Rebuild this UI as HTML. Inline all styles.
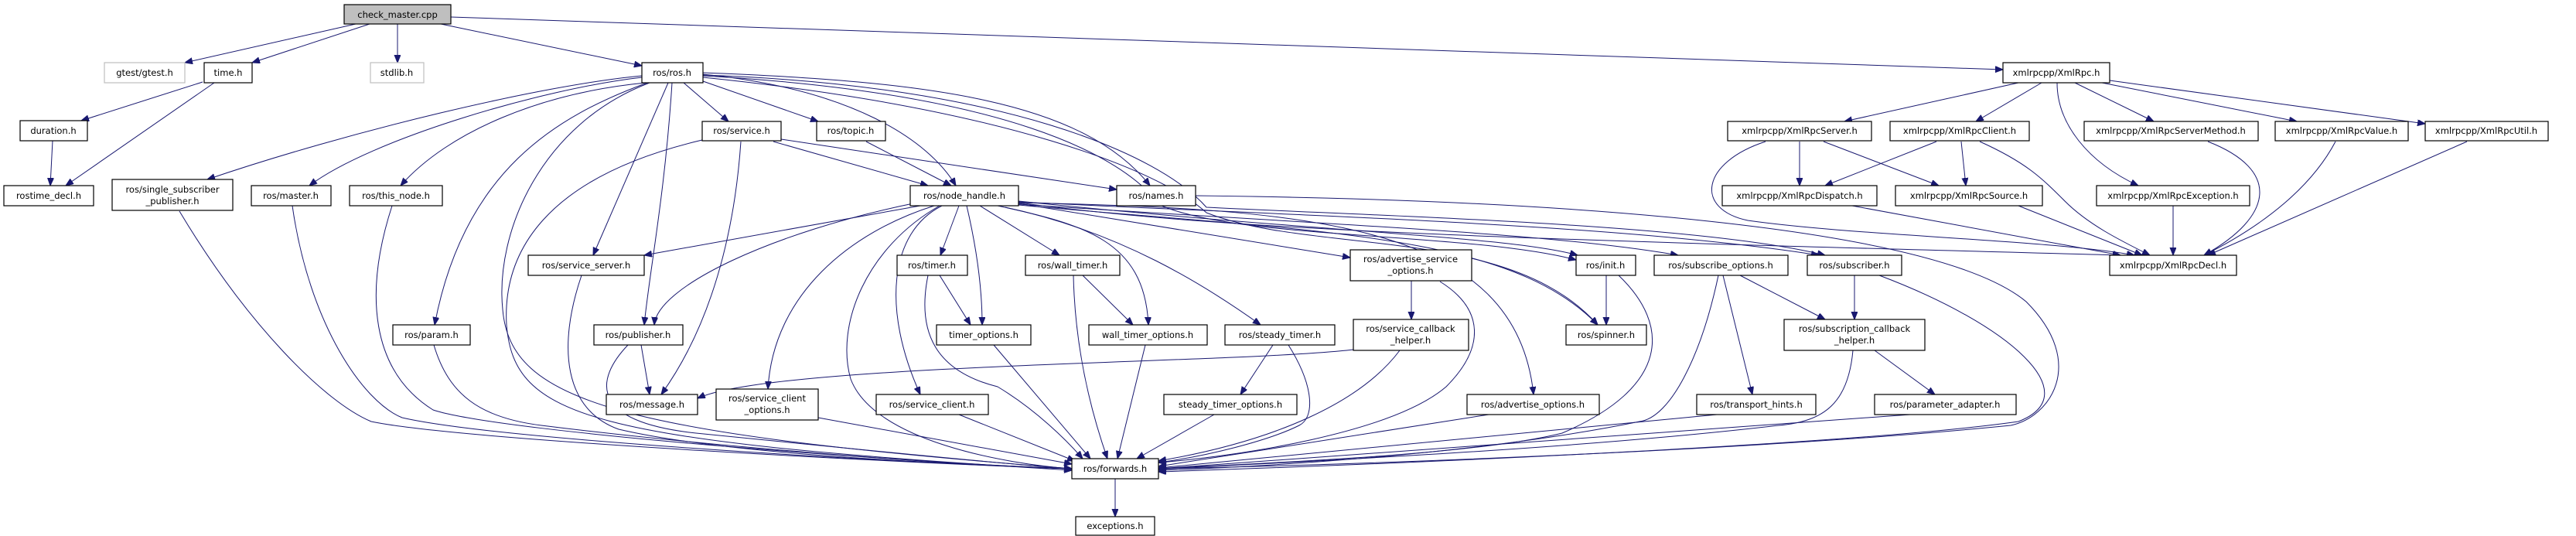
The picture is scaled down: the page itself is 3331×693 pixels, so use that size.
<!DOCTYPE html>
<html><head><meta charset="utf-8"><style>
html,body{margin:0;padding:0;background:#fff;}
svg{display:block;}
text{font-family:"DejaVu Sans","Liberation Sans",sans-serif;font-size:11.5px;text-anchor:middle;fill:#000;}
.n{fill:#fff;stroke:#000;stroke-width:1.2;}
.g{fill:#fff;stroke:#bfbfbf;stroke-width:1.2;}
.e{fill:none;stroke:#191970;stroke-width:1;marker-end:url(#a);}
</style></head><body>
<svg width="3331" height="693" viewBox="0 0 3331 693" xmlns="http://www.w3.org/2000/svg">
<defs><marker id="a" markerUnits="userSpaceOnUse" markerWidth="12" markerHeight="10" refX="10" refY="4" orient="auto"><path d="M0,0 L10,4 L0,8 z" fill="#191970" stroke="#191970"/></marker></defs>
<g>
<!-- edges -->
<path class="e" d="M583,22 L2590,90"/>
<path class="e" d="M570,31 L830,85"/>
<path class="e" d="M460,31 L239,81"/>
<path class="e" d="M478,31 L326,81"/>
<path class="e" d="M514,31 L514,81"/>
<path class="e" d="M262,106 L105,156"/>
<path class="e" d="M277,107 L85,240"/>
<path class="e" d="M68,182 L65,240"/>
<path class="e" d="M830,98 C700,110 450,170 268,232"/>
<path class="e" d="M830,100 C700,115 480,180 400,240"/>
<path class="e" d="M835,107 C700,120 580,170 518,240"/>
<path class="e" d="M837,107 C720,150 600,220 562,420"/>
<path class="e" d="M840,107 C700,160 640,300 650,400 C660,520 800,560 1386,606"/>
<path class="e" d="M864,107 L767,330"/>
<path class="e" d="M869,107 C860,250 840,350 833,420"/>
<path class="e" d="M884,107 L942,157"/>
<path class="e" d="M909,105 L1058,157"/>
<path class="e" d="M909,96 C1100,115 1200,180 1236,240"/>
<path class="e" d="M909,94 C1200,105 1400,130 1487,240"/>
<path class="e" d="M909,98 C1300,120 1450,200 1500,265 C1600,310 1900,300 2038,336"/>
<path class="e" d="M909,100 C1300,140 1500,220 1560,275 C1700,330 1950,290 2066,420"/>
<path class="e" d="M909,97 C1300,110 1500,200 1560,268 C1800,280 2200,290 2360,330"/>
<path class="e" d="M958,183 C950,300 920,420 855,510"/>
<path class="e" d="M1000,183 L1200,240"/>
<path class="e" d="M1010,180 L1444,245"/>
<path class="e" d="M908,181 C700,230 650,330 655,420 C665,540 760,570 1386,608"/>
<path class="e" d="M1120,183 L1230,240"/>
<path class="e" d="M1190,266 L833,330"/>
<path class="e" d="M1181,263 C1000,300 850,370 846,420"/>
<path class="e" d="M1208,266 C1100,300 1000,380 993,503"/>
<path class="e" d="M1215,266 C1120,320 1080,420 1100,490 C1130,570 1300,600 1386,606"/>
<path class="e" d="M1218,266 C1150,300 1140,400 1190,510"/>
<path class="e" d="M1240,266 L1216,330"/>
<path class="e" d="M1250,266 C1265,330 1270,380 1270,420"/>
<path class="e" d="M1267,266 L1370,330"/>
<path class="e" d="M1290,266 C1400,290 1480,310 1485,420"/>
<path class="e" d="M1300,268 C1450,300 1560,370 1630,420"/>
<path class="e" d="M1317,263 L1746,333"/>
<path class="e" d="M1317,262 C1700,270 1960,290 1983,510"/>
<path class="e" d="M1317,260 C1700,300 1950,305 2040,330"/>
<path class="e" d="M1317,265 C1700,300 1950,300 2066,420"/>
<path class="e" d="M1317,264 C1700,290 2000,300 2170,330"/>
<path class="e" d="M1317,261 C1700,280 2100,290 2352,330"/>
<path class="e" d="M1317,262 C1600,300 2000,310 2742,330"/>
<path class="e" d="M1546,253 C2000,258 2500,290 2620,390 C2700,470 2650,540 2600,550 C2300,580 1800,600 1498,606"/>
<path class="e" d="M2283,183 C2200,210 2190,270 2260,285 C2400,305 2650,310 2760,330"/>
<path class="e" d="M2430,356 C2600,420 2700,510 2610,545 C2400,575 1800,600 1498,610"/>
<path class="e" d="M2222,356 C2200,460 2160,540 2120,545 C1900,590 1600,605 1498,608"/>
<path class="e" d="M2093,356 C2160,420 2160,500 2020,560 C1900,590 1600,600 1498,606"/>
<path class="e" d="M2077,356 L2077,420"/>
<path class="e" d="M2250,356 L2360,413"/>
<path class="e" d="M2228,356 L2266,510"/>
<path class="e" d="M2398,356 L2398,413"/>
<path class="e" d="M2424,453 L2502,510"/>
<path class="e" d="M2396,453 C2390,520 2360,545 2300,550 C2000,585 1600,600 1498,607"/>
<path class="e" d="M2220,536 L1498,605"/>
<path class="e" d="M2470,536 L1498,606"/>
<path class="e" d="M1925,536 L1498,603"/>
<path class="e" d="M1825,363 L1825,413"/>
<path class="e" d="M1862,364 C1920,400 1920,450 1870,500 C1800,560 1600,590 1498,598"/>
<path class="e" d="M1750,452 C1600,470 1000,470 902,515"/>
<path class="e" d="M1810,453 C1760,520 1650,570 1498,596"/>
<path class="e" d="M1646,446 L1604,510"/>
<path class="e" d="M1666,446 C1700,500 1700,540 1680,550 C1640,570 1560,590 1498,598"/>
<path class="e" d="M1570,536 L1470,593"/>
<path class="e" d="M1481,446 L1445,593"/>
<path class="e" d="M1388,356 C1390,450 1410,530 1432,593"/>
<path class="e" d="M1400,356 L1465,420"/>
<path class="e" d="M1215,356 L1255,420"/>
<path class="e" d="M1200,356 C1185,430 1210,480 1290,500 C1340,530 1380,570 1400,593"/>
<path class="e" d="M1285,446 L1410,593"/>
<path class="e" d="M1240,536 L1390,596"/>
<path class="e" d="M1058,540 L1386,600"/>
<path class="e" d="M829,446 L840,510"/>
<path class="e" d="M812,446 C770,490 760,545 900,560 C1100,580 1300,600 1386,606"/>
<path class="e" d="M752,356 C720,450 730,530 800,555 C950,590 1250,600 1386,606"/>
<path class="e" d="M232,273 C320,420 420,520 480,545 C600,570 1200,600 1386,606"/>
<path class="e" d="M378,266 C400,420 470,520 520,540 C650,570 1200,600 1386,606"/>
<path class="e" d="M507,266 C470,380 480,480 560,530 C650,560 1200,600 1386,606"/>
<path class="e" d="M561,446 C580,510 620,540 700,550 C900,575 1200,600 1386,606"/>
<path class="e" d="M1442,619 L1442,668"/>
<path class="e" d="M2610,107 L2385,157"/>
<path class="e" d="M2640,107 L2555,157"/>
<path class="e" d="M2683,107 L2785,157"/>
<path class="e" d="M2718,107 L2970,157"/>
<path class="e" d="M2728,104 L3136,160"/>
<path class="e" d="M2660,107 C2660,160 2700,210 2765,240"/>
<path class="e" d="M2327,183 L2327,240"/>
<path class="e" d="M2358,183 L2507,240"/>
<path class="e" d="M2504,183 L2360,240"/>
<path class="e" d="M2536,183 L2542,240"/>
<path class="e" d="M2560,183 C2620,210 2640,230 2670,260 C2700,290 2740,310 2780,330"/>
<path class="e" d="M2395,266 L2742,330"/>
<path class="e" d="M2610,266 L2770,330"/>
<path class="e" d="M2810,266 L2810,330"/>
<path class="e" d="M2855,183 C2950,220 2940,280 2850,330"/>
<path class="e" d="M3020,183 C2990,240 2930,290 2850,330"/>
<path class="e" d="M3190,183 L2855,330"/>
</g>
<g>
<rect x="445" y="6" width="138" height="25" fill="#bfbfbf" stroke="#000" stroke-width="1.2"/><text x="514" y="23">check_master.cpp</text>
<rect class="g" x="135" y="81" width="104" height="26"/><text x="187" y="98">gtest/gtest.h</text>
<rect class="n" x="264" y="81" width="62" height="26"/><text x="295" y="98">time.h</text>
<rect class="g" x="479" y="81" width="69" height="26"/><text x="513" y="98">stdlib.h</text>
<rect class="n" x="830" y="81" width="79" height="26"/><text x="869" y="98">ros/ros.h</text>
<rect class="n" x="2590" y="81" width="138" height="26"/><text x="2659" y="98">xmlrpcpp/XmlRpc.h</text>
<rect class="n" x="26" y="156" width="87" height="26"/><text x="69" y="173">duration.h</text>
<rect class="n" x="908" y="157" width="102" height="25"/><text x="959" y="173">ros/service.h</text>
<rect class="n" x="1056" y="157" width="89" height="25"/><text x="1100" y="173">ros/topic.h</text>
<rect class="n" x="2234" y="157" width="186" height="25"/><text x="2327" y="173">xmlrpcpp/XmlRpcServer.h</text>
<rect class="n" x="2444" y="157" width="180" height="25"/><text x="2534" y="173">xmlrpcpp/XmlRpcClient.h</text>
<rect class="n" x="2695" y="157" width="225" height="25"/><text x="2807" y="173">xmlrpcpp/XmlRpcServerMethod.h</text>
<rect class="n" x="2942" y="157" width="172" height="25"/><text x="3028" y="173">xmlrpcpp/XmlRpcValue.h</text>
<rect class="n" x="3136" y="157" width="159" height="25"/><text x="3215" y="173">xmlrpcpp/XmlRpcUtil.h</text>
<rect class="n" x="5" y="240" width="116" height="26"/><text x="63" y="257">rostime_decl.h</text>
<rect class="n" x="145" y="232" width="156" height="40"/><text x="223" y="249">ros/single_subscriber</text><text x="223" y="264">_publisher.h</text>
<rect class="n" x="325" y="240" width="103" height="26"/><text x="376" y="257">ros/master.h</text>
<rect class="n" x="452" y="240" width="120" height="26"/><text x="512" y="257">ros/this_node.h</text>
<rect class="n" x="1177" y="240" width="140" height="26"/><text x="1247" y="257">ros/node_handle.h</text>
<rect class="n" x="1444" y="240" width="102" height="26"/><text x="1495" y="257">ros/names.h</text>
<rect class="n" x="2227" y="240" width="200" height="26"/><text x="2327" y="257">xmlrpcpp/XmlRpcDispatch.h</text>
<rect class="n" x="2451" y="240" width="190" height="26"/><text x="2546" y="257">xmlrpcpp/XmlRpcSource.h</text>
<rect class="n" x="2711" y="240" width="198" height="26"/><text x="2810" y="257">xmlrpcpp/XmlRpcException.h</text>
<rect class="n" x="683" y="330" width="150" height="26"/><text x="758" y="347">ros/service_server.h</text>
<rect class="n" x="1160" y="330" width="91" height="26"/><text x="1205" y="347">ros/timer.h</text>
<rect class="n" x="1326" y="330" width="122" height="26"/><text x="1387" y="347">ros/wall_timer.h</text>
<rect class="n" x="1746" y="323" width="157" height="40"/><text x="1824" y="339">ros/advertise_service</text><text x="1824" y="354">_options.h</text>
<rect class="n" x="2038" y="330" width="77" height="26"/><text x="2076" y="347">ros/init.h</text>
<rect class="n" x="2139" y="330" width="173" height="26"/><text x="2225" y="347">ros/subscribe_options.h</text>
<rect class="n" x="2337" y="330" width="122" height="26"/><text x="2398" y="347">ros/subscriber.h</text>
<rect class="n" x="2728" y="330" width="164" height="26"/><text x="2810" y="347">xmlrpcpp/XmlRpcDecl.h</text>
<rect class="n" x="508" y="420" width="100" height="26"/><text x="558" y="437">ros/param.h</text>
<rect class="n" x="768" y="420" width="115" height="26"/><text x="825" y="437">ros/publisher.h</text>
<rect class="n" x="1211" y="420" width="122" height="26"/><text x="1272" y="437">timer_options.h</text>
<rect class="n" x="1408" y="420" width="153" height="26"/><text x="1484" y="437">wall_timer_options.h</text>
<rect class="n" x="1584" y="420" width="142" height="26"/><text x="1655" y="437">ros/steady_timer.h</text>
<rect class="n" x="1750" y="413" width="149" height="40"/><text x="1824" y="429">ros/service_callback</text><text x="1824" y="444">_helper.h</text>
<rect class="n" x="2025" y="420" width="104" height="26"/><text x="2077" y="437">ros/spinner.h</text>
<rect class="n" x="2307" y="413" width="182" height="40"/><text x="2398" y="429">ros/subscription_callback</text><text x="2398" y="444">_helper.h</text>
<rect class="n" x="784" y="510" width="118" height="26"/><text x="843" y="527">ros/message.h</text>
<rect class="n" x="926" y="503" width="132" height="40"/><text x="992" y="519">ros/service_client</text><text x="992" y="534">_options.h</text>
<rect class="n" x="1133" y="510" width="145" height="26"/><text x="1205" y="527">ros/service_client.h</text>
<rect class="n" x="1505" y="510" width="172" height="26"/><text x="1591" y="527">steady_timer_options.h</text>
<rect class="n" x="1897" y="510" width="171" height="26"/><text x="1982" y="527">ros/advertise_options.h</text>
<rect class="n" x="2194" y="510" width="154" height="26"/><text x="2271" y="527">ros/transport_hints.h</text>
<rect class="n" x="2424" y="510" width="183" height="26"/><text x="2515" y="527">ros/parameter_adapter.h</text>
<rect class="n" x="1386" y="593" width="112" height="26"/><text x="1442" y="610">ros/forwards.h</text>
<rect class="n" x="1391" y="668" width="102" height="24"/><text x="1442" y="684">exceptions.h</text>
</g>
</svg>
</body></html>
